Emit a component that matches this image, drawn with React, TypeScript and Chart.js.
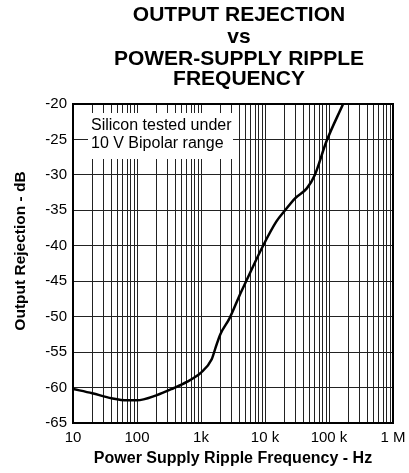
import React, { useEffect, useRef } from "react";
import { Chart, registerables } from "chart.js";

Chart.register(...registerables);

// Curve (frequency in Hz, output rejection in dB)
const frequencyHz = [10, 20, 40, 70, 100, 200, 370, 600, 1000, 1470, 1700, 2000, 2800, 4000, 5200, 9200, 15000, 20600, 29500, 45000, 60000, 91000, 166000];
const rejectionDb = [-60.2, -60.8, -61.5, -61.8, -61.8, -61.1, -60.1, -59.2, -57.9, -56.0, -54.3, -52.5, -50.2, -47.0, -44.8, -40.1, -36.6, -35.0, -33.3, -31.9, -30.0, -25.3, -20.0];

// Axis ticks
const xMajorValues = [10, 100, 1000, 10000, 100000, 1000000];
const xMajorLabels = ["10", "100", "1k", "10 k", "100 k", "1 M"];
const yMin = -65;
const yMax = -20;
const yStep = 5;

const titleLines = ["OUTPUT REJECTION", "vs", "POWER-SUPPLY RIPPLE", "FREQUENCY"];
const xTitle = "Power Supply Ripple Frequency - Hz";
const yTitle = "Output Rejection - dB";
const noteLines = ["Silicon tested under", "10 V Bipolar range"];

const FONT = '"Liberation Sans", Arial, Helvetica, sans-serif';

export default function App() {
  const canvasRef = useRef<HTMLCanvasElement | null>(null);

  useEffect(() => {
    const canvas = canvasRef.current;
    if (!canvas) return;

    // gridline positions: 1..9 per decade
    const gridValues: number[] = [];
    for (let d = 0; d < xMajorValues.length - 1; d++) {
      for (let m = 1; m <= 9; m++) gridValues.push(m * xMajorValues[d]);
    }
    gridValues.push(xMajorValues[xMajorValues.length - 1]);

    const labelFor = (v: number) => {
      const i = xMajorValues.findIndex((mv) => Math.abs(mv - v) / mv < 1e-9);
      return i >= 0 ? xMajorLabels[i] : "";
    };

    const decorPlugin = {
      id: "decor",
      beforeDatasetsDraw(chart: any) {
        const { ctx } = chart;
        ctx.save();
        ctx.fillStyle = "#ffffff";
        ctx.fillRect(88, 113, 145, 46);
        ctx.fillStyle = "#000";
        ctx.font = `16px ${FONT}`;
        ctx.textAlign = "left";
        ctx.textBaseline = "alphabetic";
        ctx.fillText(noteLines[0], 91, 130);
        ctx.fillText(noteLines[1], 91, 147.5);
        ctx.restore();
      },
      afterDatasetsDraw(chart: any) {
        const { ctx, chartArea } = chart;
        ctx.save();
        ctx.strokeStyle = "#000";
        ctx.lineWidth = 2;
        ctx.strokeRect(chartArea.left, chartArea.top, chartArea.right - chartArea.left, chartArea.bottom - chartArea.top);
        ctx.restore();
      },
      afterDraw(chart: any) {
        const { ctx } = chart;
        ctx.save();
        ctx.fillStyle = "#000";
        ctx.textAlign = "center";
        ctx.textBaseline = "alphabetic";
        ctx.font = `bold 21px ${FONT}`;
        const baselines = [21, 43, 65, 85];
        titleLines.forEach((t, i) => ctx.fillText(t, 239, baselines[i]));

        ctx.font = `bold 16px ${FONT}`;
        ctx.fillText(xTitle, 233, 463);

        ctx.translate(21, 251);
        ctx.rotate(-Math.PI / 2);
        ctx.font = `bold 15.5px ${FONT}`;
        ctx.textBaseline = "middle";
        ctx.fillText(yTitle, 0, 0);
        ctx.restore();
      },
    };

    const chart = new Chart(canvas, {
      type: "line",
      data: {
        datasets: [
          {
            data: frequencyHz.map((f, i) => ({ x: f, y: rejectionDb[i] })),
            borderColor: "#000",
            borderWidth: 2.5,
            pointRadius: 0,
            fill: false,
            cubicInterpolationMode: "monotone",
          },
        ],
      },
      options: {
        responsive: false,
        animation: false,
        devicePixelRatio: 1,
        layout: { padding: { top: 104, right: 16, left: 0, bottom: 0 } },
        plugins: {
          legend: { display: false },
          tooltip: { enabled: false },
          title: { display: false },
        },
        scales: {
          x: {
            type: "logarithmic",
            min: 10,
            max: 1000000,
            afterBuildTicks: (scale: any) => {
              scale.ticks = gridValues.map((v) => ({ value: v }));
            },
            afterFit: (scale: any) => {
              scale.height = 50;
              scale.paddingLeft = 0;
              scale.paddingRight = 0;
            },
            grid: { color: "#222", lineWidth: 1, drawTicks: false },
            border: { display: false },
            ticks: {
              autoSkip: false,
              maxRotation: 0,
              minRotation: 0,
              padding: 6,
              color: "#000",
              font: { family: FONT, size: 15 },
              callback: (v: any) => labelFor(Number(v)),
            },
          },
          y: {
            type: "linear",
            min: yMin,
            max: yMax,
            afterFit: (scale: any) => {
              scale.width = 73;
              scale.paddingTop = 0;
              scale.paddingBottom = 0;
            },
            grid: { color: "#222", lineWidth: 1, drawTicks: false },
            border: { display: false },
            ticks: {
              stepSize: yStep,
              padding: 6,
              color: "#000",
              font: { family: FONT, size: 15 },
              callback: (v: any) => String(v),
            },
          },
        },
      },
      plugins: [decorPlugin],
    } as any);

    return () => chart.destroy();
  }, []);

  return (
    <div style={{ position: "fixed", left: 0, top: 0, width: 409, height: 473, background: "#fff" }}>
      <canvas ref={canvasRef} width={409} height={473} style={{ display: "block" }} />
    </div>
  );
}
